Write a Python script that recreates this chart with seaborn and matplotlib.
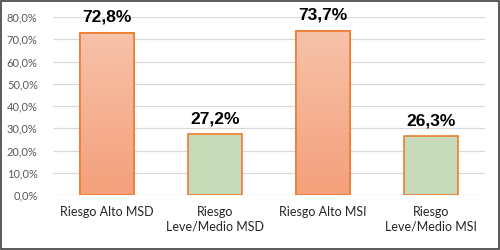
import numpy as np
import pandas as pd
import matplotlib
matplotlib.use("Agg")
import matplotlib.pyplot as plt
import seaborn as sns
from matplotlib.patches import Rectangle
from matplotlib.colors import LinearSegmentedColormap
from matplotlib.ticker import FuncFormatter

# datos
categorias = ["Riesgo Alto MSD", "Riesgo\nLeve/Medio MSD", "Riesgo Alto MSI", "Riesgo\nLeve/Medio MSI"]
valores = [0.728, 0.272, 0.737, 0.263]
etiquetas = ["72,8%", "27,2%", "73,7%", "26,3%"]
tipo = ["alto", "leve", "alto", "leve"]

df = pd.DataFrame({"categoria": categorias, "valor": valores, "tipo": tipo})

sns.set_style("white")
plt.rcParams['font.family'] = ['Lato', 'DejaVu Sans']

fig = plt.figure(figsize=(5, 2.5), dpi=100)
ax = fig.add_axes([0.106, 0.22, 0.864, 0.712])

sns.barplot(data=df, x="categoria", y="valor", hue="tipo",
            palette={"alto": "#F5B294", "leve": "#C6E0B4"},
            width=0.5, dodge=False, legend=False, ax=ax,
            edgecolor="#ED7D31", linewidth=1.2, zorder=3)

# barras ordenadas por posicion
barras = sorted([p for p in ax.patches if p.get_height() > 0], key=lambda p: p.get_x())

# degradado en las barras naranjas
cmap_naranja = LinearSegmentedColormap.from_list("nar", ["#F4A07A", "#F7C2AA"])
grad = np.linspace(0, 1, 256).reshape(-1, 1)
for barra, t in zip(barras, tipo):
    if t != "alto":
        continue
    x0, y0 = barra.get_x(), barra.get_y()
    w, h = barra.get_width(), barra.get_height()
    im = ax.imshow(grad, cmap=cmap_naranja, origin="lower", aspect="auto",
                   extent=[x0, x0 + w, y0, y0 + h], zorder=3.5)
    im.set_clip_path(barra)
    borde = Rectangle((x0, y0), w, h, fill=False, edgecolor="#ED7D31",
                      linewidth=1.2, zorder=4)
    ax.add_patch(borde)

for barra, txt in zip(barras, etiquetas):
    ax.annotate(txt, (barra.get_x() + barra.get_width() / 2, barra.get_height()),
                xytext=(0, 6), textcoords="offset points", ha="center", va="bottom",
                fontsize=12.5, fontweight="bold", family=["Liberation Sans", "DejaVu Sans"],
                color="black", zorder=5)

ax.set_xlim(-0.5, 3.5)
ax.set_ylim(0, 0.8)
ax.set_yticks(np.arange(0, 0.81, 0.1))
ax.yaxis.set_major_formatter(FuncFormatter(lambda v, p: f"{v * 100:.1f}%".replace(".", ",")))
ax.grid(axis="y", color="#D9D9D9", linewidth=0.9, zorder=0)
ax.set_axisbelow(True)
for s in ax.spines.values():
    s.set_visible(False)
ax.tick_params(axis="y", length=0, pad=11, labelsize=8, labelcolor="#595959")
ax.tick_params(axis="x", length=0, pad=8, labelsize=9, labelcolor="#262626")
ax.set_xlabel("")
ax.set_ylabel("")

fig.patches.append(Rectangle((0.002, 0.004), 0.996, 0.992, transform=fig.transFigure,
                             fill=False, edgecolor="#404040", linewidth=1.2))

plt.savefig("out.png", dpi=100)
